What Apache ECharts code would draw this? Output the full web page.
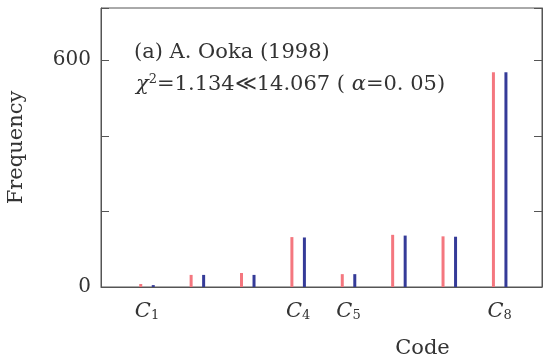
<!DOCTYPE html>
<html lang="en">
<head>
    <meta charset="UTF-8">
    <title>Code frequency</title>
    <script src="https://cdn.jsdelivr.net/npm/echarts@6/dist/echarts.min.js"></script>
    <style>
        html, body { margin: 0; padding: 0; background: #fff; }
    </style>
</head>
<body>
<div id="main" style="width: 550px;height:362px;"></div>
<script type="text/javascript">
    // codes C1..C8 and the two frequency series
    var codes = [1, 2, 3, 4, 5, 6, 7, 8];
    var labelledCodes = [1, 4, 5, 8];
    var pinkValues = [8, 32, 37, 132, 34, 138, 134, 568];
    var blueValues = [5, 32, 32, 131, 34, 136, 133, 568];
    var yLabels = [0, 600];

    var serif = '"DejaVu Serif", "Liberation Serif", serif';

    function pairs(vals) {
        return codes.map(function (c, i) { return [c, vals[i]]; });
    }

    var myChart = echarts.init(document.getElementById('main'));
    var option = {
        animation: false,
        backgroundColor: '#fff',
        grid: {
            left: 101, right: 8, top: 8, bottom: 75,
            outerBoundsMode: 'none',
            show: true, borderColor: '#555', borderWidth: 1
        },
        title: [{
            text: '(a) A. Ooka (1998)',
            left: 129, top: 37,
            textStyle: { fontFamily: serif, fontSize: 21, fontWeight: 'normal', color: '#333' }
        }, {
            text: '{i|χ}{s|2}=1.134≪14.067 ( {i|α}=0. 05)',
            left: 131, top: 68,
            textStyle: {
                fontFamily: serif, fontSize: 21, fontWeight: 'normal', color: '#333',
                rich: {
                    i: { fontFamily: serif, fontSize: 21, fontStyle: 'italic', color: '#333' },
                    s: { fontFamily: serif, fontSize: 13, color: '#333', verticalAlign: 'top', padding: [0, 0, 10, 0] }
                }
            }
        }],
        xAxis: {
            type: 'value',
            min: 0.087,
            max: 8.84,
            name: 'Code',
            nameLocation: 'middle',
            nameGap: 51,
            nameTextStyle: { fontFamily: serif, fontSize: 21, color: '#333', padding: [0, 0, 0, 202] },
            splitLine: { show: false },
            axisLine: { show: true, lineStyle: { color: '#555' } },
            axisTick: { show: false },
            axisLabel: {
                customValues: labelledCodes,
                margin: 14,
                formatter: function (v) { return '{c|C}{n|' + v + '}'; },
                rich: {
                    c: { fontFamily: serif, fontSize: 21, fontStyle: 'italic', color: '#333' },
                    n: { fontFamily: serif, fontSize: 13, color: '#333', verticalAlign: 'bottom', padding: [8, 0, 0, 0] }
                }
            }
        },
        yAxis: [{
            type: 'value',
            min: 0,
            max: 738,
            interval: 200,
            name: 'Frequency',
            nameLocation: 'middle',
            nameGap: 74,
            nameTextStyle: { fontFamily: serif, fontSize: 21, color: '#333' },
            splitLine: { show: false },
            axisLine: { show: true, lineStyle: { color: '#555' } },
            axisTick: { show: true, inside: true, length: 8, lineStyle: { color: '#555' } },
            axisLabel: {
                customValues: yLabels,
                margin: 10,
                fontFamily: serif, fontSize: 20, color: '#333'
            }
        }, {
            type: 'value',
            position: 'right',
            min: 0,
            max: 738,
            interval: 200,
            splitLine: { show: false },
            axisLine: { show: true, lineStyle: { color: '#555' } },
            axisTick: { show: true, inside: true, length: 8, lineStyle: { color: '#555' } },
            axisLabel: { show: false }
        }],
        series: [{
            type: 'bar',
            data: pairs(pinkValues),
            barWidth: 3,
            barGap: '317%',
            itemStyle: { color: '#f4777f' }
        }, {
            type: 'bar',
            data: pairs(blueValues),
            barWidth: 3,
            itemStyle: { color: '#353b98' }
        }]
    };
    myChart.setOption(option);
</script>
</body>
</html>
